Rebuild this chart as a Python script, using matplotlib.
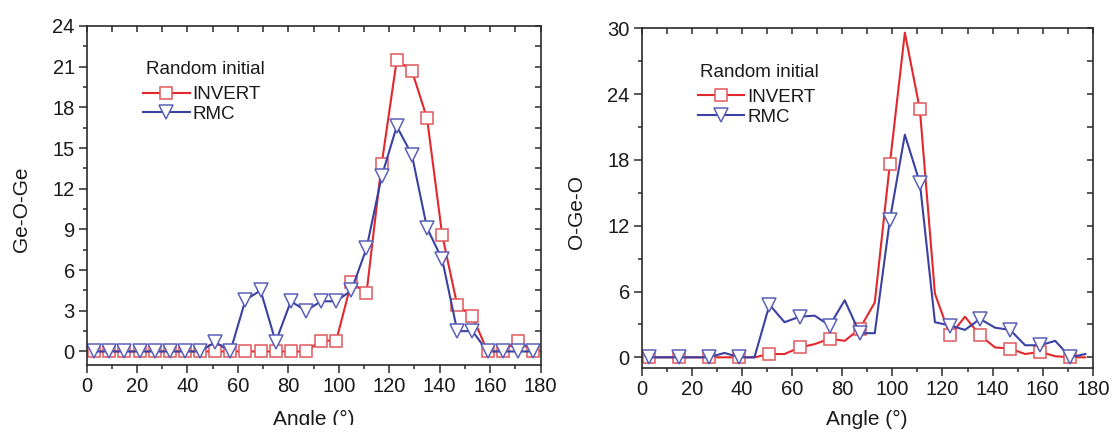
import numpy as np
import matplotlib
matplotlib.use("Agg")
import matplotlib.pyplot as plt
from matplotlib.ticker import MultipleLocator
from matplotlib.patches import Rectangle

plt.rcParams['font.family'] = ['Liberation Sans', 'DejaVu Sans']

# Bond-angle distributions (bin centres in degrees)
angle = list(range(3, 180, 6))

ge_o_ge_invert = [0, 0, 0, 0, 0, 0, 0, 0, 0, 0, 0, 0, 0, 0, 0, 0.8,
                  0.8, 5.1, 4.3, 13.8, 21.5, 20.7, 17.2, 8.6, 3.4, 2.6,
                  0, 0, 0.8, 0]
ge_o_ge_rmc = [0, 0, 0, 0, 0, 0, 0, 0, 0.7, 0, 3.8, 4.5, 0.7, 3.7, 3.0, 3.7,
               3.7, 4.5, 7.6, 12.9, 16.6, 14.5, 9.1, 6.8, 1.5, 1.5,
               0, 0, 0, 0]

o_ge_o_invert = [0, 0, 0, 0, 0, 0, 0, 0, 0.3, 0.3, 0.9, 1.2, 1.7, 1.5, 2.6,
                 5.0, 17.6, 29.6, 22.6, 5.8, 2.0, 3.7, 2.0, 0.9, 0.8, 0.3,
                 0.5, 0.1, 0, 0]
o_ge_o_rmc = [0, 0, 0, 0, 0, 0.4, 0, 0, 4.8, 3.2, 3.7, 3.8, 2.9, 5.2, 2.2,
              2.2, 12.5, 20.3, 15.9, 3.2, 2.9, 2.5, 3.5, 2.7, 2.5, 1.1,
              1.1, 1.5, 0, 0.3]

legend_title = "Random initial"
series_names = ["INVERT", "RMC"]
x_label = "Angle (\u00b0)"

RED = "#E2282C"
RED_MK = "#E0585C"
BLUE = "#3B41A3"
BLUE_MK = "#5A60B8"
INK = '#2a2a2a'

fig = plt.figure(figsize=(11.14, 4.32), dpi=100)

ax1 = fig.add_axes([0.0777, 0.155, 0.4075, 0.785])
ax2 = fig.add_axes([0.576, 0.1475, 0.405, 0.787])


def draw(ax, inv, rmc, ylabel, ymax, ystep, every, xlab_y):
    ax.plot(angle, inv, color=RED, lw=1.5, marker='s', ms=8,
            mfc='white', mec=RED_MK, mew=1.1, markevery=every,
            label=series_names[0])
    ax.plot(angle, rmc, color=BLUE, lw=1.5, marker='v', ms=9.5,
            mfc='white', mec=BLUE_MK, mew=1.1, markevery=every,
            label=series_names[1])
    ax.set_xlim(0, 180)
    ax.set_ylim(-1, ymax)
    ax.xaxis.set_major_locator(MultipleLocator(20))
    ax.xaxis.set_minor_locator(MultipleLocator(10))
    ax.yaxis.set_major_locator(MultipleLocator(ystep))
    ax.yaxis.set_minor_locator(MultipleLocator(ystep / 2))
    ax.tick_params(which='major', direction='out', length=6, width=1.1,
                   labelsize=14.5, pad=2.5, color=INK, labelcolor='#1a1a1a')
    ax.tick_params(which='minor', direction='out', length=3, width=1.1,
                   color=INK)
    for sp in ax.spines.values():
        sp.set_linewidth(1.2)
        sp.set_color(INK)

    # inward ticks on the top and right frame edges
    top = ax.secondary_xaxis('top')
    top.xaxis.set_major_locator(MultipleLocator(20))
    top.xaxis.set_minor_locator(MultipleLocator(10))
    top.tick_params(which='both', direction='in', length=4, width=1.1,
                    labeltop=False, color=INK)
    top.spines['top'].set_visible(False)
    right = ax.secondary_yaxis('right')
    right.yaxis.set_major_locator(MultipleLocator(ystep))
    right.yaxis.set_minor_locator(MultipleLocator(ystep / 2))
    right.tick_params(which='both', direction='in', length=4, width=1.1,
                      labelright=False, color=INK)
    right.spines['right'].set_visible(False)

    ax.set_ylabel(ylabel, fontsize=15, color='#1a1a1a')
    ax.yaxis.set_label_coords(-0.123, 0.46)
    ax.set_xlabel(x_label, fontsize=15, color='#1a1a1a')
    ax.xaxis.set_label_coords(0.5, xlab_y)

    ax.text(0.13, 0.871, legend_title, transform=ax.transAxes,
            fontsize=13.5, ha='left', va='center', color='#1a1a1a')
    ax.legend(loc='upper left', bbox_to_anchor=(0.124, 0.823),
              frameon=False, fontsize=13.5, handlelength=2.5,
              handletextpad=0.15, labelspacing=0.15, borderpad=0,
              borderaxespad=0, labelcolor='#1a1a1a')


draw(ax1, ge_o_ge_invert, ge_o_ge_rmc, "Ge-O-Ge", 24, 3, 1, -0.133)
draw(ax2, o_ge_o_invert, o_ge_o_rmc, "O-Ge-O", 30, 6, 2, -0.123)

# bottom strip of the left panel is cropped in the source layout
fig.patches.append(Rectangle((0, 0), 0.5, 7 / 432, transform=fig.transFigure,
                             facecolor='white', edgecolor='none', zorder=10))

fig.savefig("out.png", dpi=100)
